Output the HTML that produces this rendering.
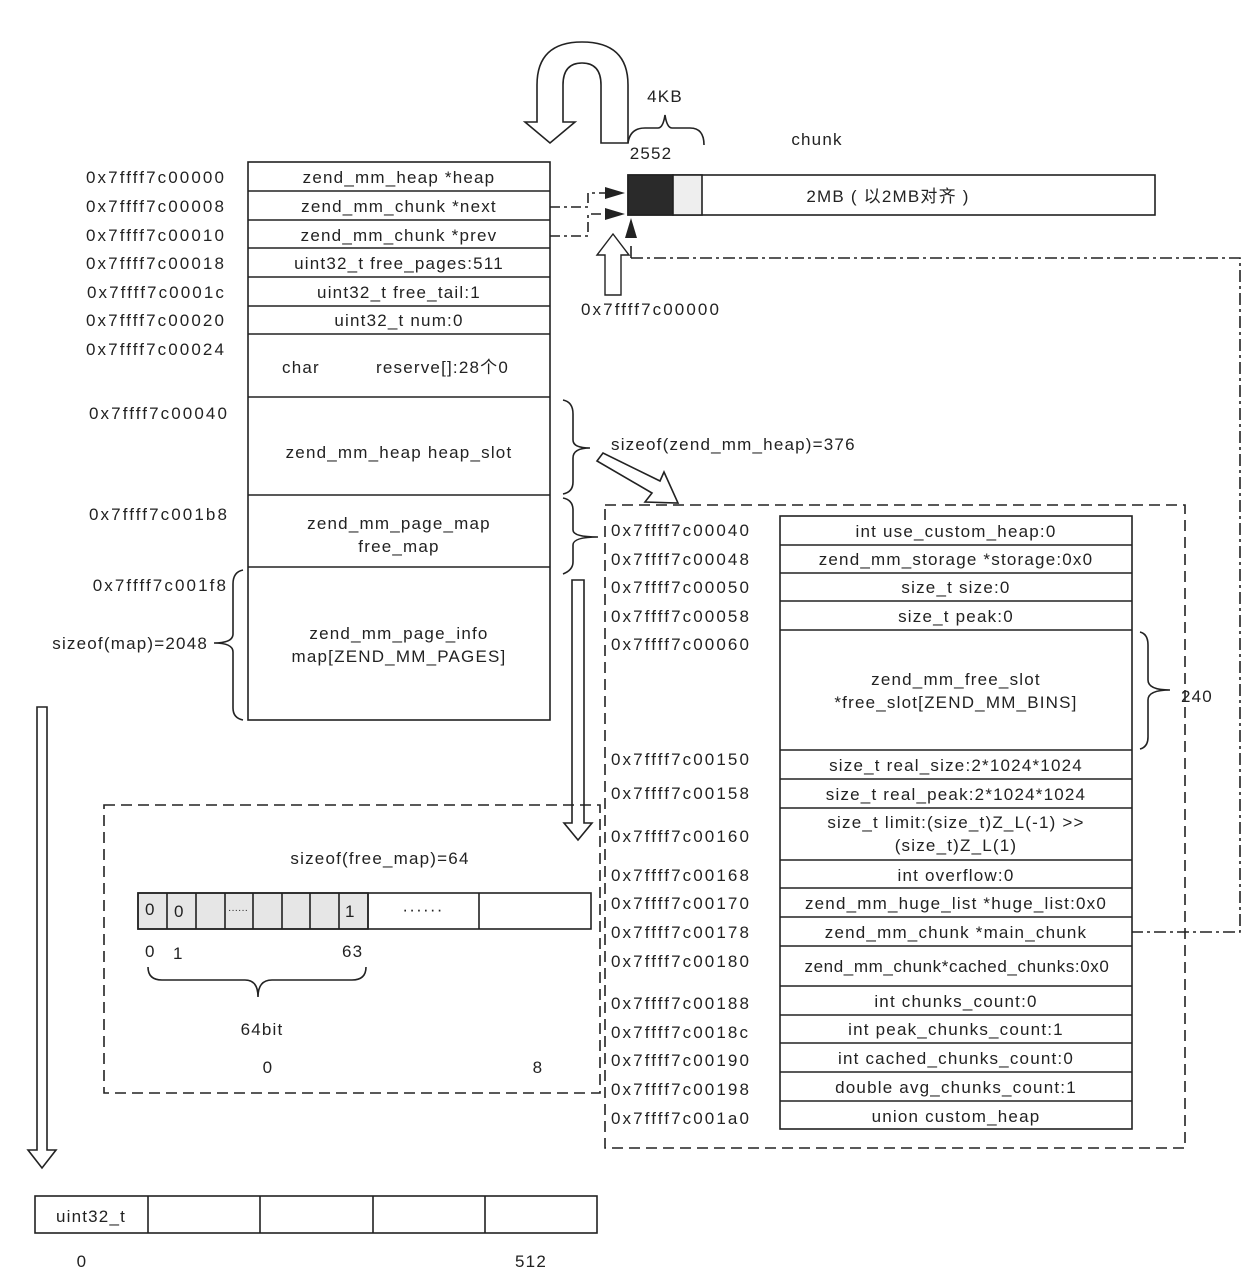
<!DOCTYPE html>
<html><head><meta charset="utf-8"><style>
body{margin:0;background:#fff}
svg text{font-family:"Liberation Sans","Noto Sans CJK SC",sans-serif;font-size:17px;fill:#222;letter-spacing:1.2px}
svg text.a{letter-spacing:2.1px}
</style></head><body>
<svg width="1255" height="1280" viewBox="0 0 1255 1280" xmlns="http://www.w3.org/2000/svg">
<g fill="none" stroke="#222" stroke-width="1.6">
<rect x="248" y="162" width="302" height="558"/>
<path d="M248 191H550M248 220H550M248 248H550M248 277H550M248 306H550M248 334H550M248 397H550M248 495H550M248 567H550"/>
<rect x="628" y="175" width="527" height="40"/>
<rect x="628" y="175" width="45" height="40" fill="#2a2a2a"/>
<rect x="673" y="175" width="29" height="40" fill="#eee"/>
<!-- U arrow -->
<path d="M601 143V85Q601 63 582 63Q563 63 563 85V122H575L550 143L525 122H537V85Q537 42 582 42Q628 42 628 85V143Z"/>
<path d="M628 143Q630 128 645 128H658Q663 128 665 115Q667 128 672 128H690Q704 128 704 145"/>
<path d="M605 295V255H597L613 234L629 255H621V295Z" stroke-width="1.4"/>
<path d="M550 207H588V193H605M550 236H588V214H605" stroke-dasharray="10,4,3,4"/>
<path d="M631 258V242M631 258H1240V932H1132" stroke-dasharray="12,4,3,4"/>
</g>
<g fill="#222">
<path d="M605 187L625 193L605 199Z"/><path d="M605 208L625 214L605 220Z"/><path d="M625 238L631 218L637 238Z"/>
</g>
<g fill="none" stroke="#222" stroke-width="1.6">
<path d="M563 400Q573 402 573 414V440Q573 448 590 448Q573 448 573 458V482Q573 492 563 494"/>
<path d="M563 498Q573 500 573 510V530Q573 537 598 537Q573 537 573 545V562Q573 570 563 574"/>
<path d="M243 570Q233 572 233 584V634Q233 643 214 643Q233 643 233 652V708Q233 718 243 720"/>
<path d="M597 461L603 453L660 481L664 472L678 503L645 502L652 493Z"/>
<rect x="605" y="505" width="580" height="643" stroke-dasharray="11,6"/>
<rect x="780" y="516" width="352" height="613"/>
<path d="M780 545H1132M780 573H1132M780 601H1132M780 630H1132M780 750H1132M780 779H1132M780 808H1132M780 860H1132M780 888H1132M780 917H1132M780 946H1132M780 986H1132M780 1015H1132M780 1043H1132M780 1072H1132M780 1101H1132"/>
<path d="M1140 632Q1148 634 1148 645V680Q1148 690 1170 690Q1148 690 1148 700V737Q1148 747 1140 749"/>
<rect x="104" y="805" width="496" height="288" stroke-dasharray="11,6"/>
<path d="M572 580V823H564L578 840L592 823H584V580Z"/>
<path d="M37 707V1150H28L42 1168L56 1150H47V707Z"/>
<rect x="138" y="893" width="230" height="36" fill="#e6e6e6"/>
<rect x="138" y="893" width="453" height="36"/>
<path d="M167 893V929M196 893V929M225 893V929M253 893V929M282 893V929M310 893V929M339 893V929M368 893V929M479 893V929"/>
<path d="M148 967Q148 980 162 980H245Q258 980 258 997Q258 980 272 980H352Q366 980 366 967"/>
<rect x="35" y="1196" width="562" height="37"/>
<path d="M148 1196V1233M260 1196V1233M373 1196V1233M485 1196V1233"/>
</g>
<g text-anchor="end">
<text class="a" x="226" y="183">0x7ffff7c00000</text>
<text class="a" x="226" y="212">0x7ffff7c00008</text>
<text class="a" x="226" y="241">0x7ffff7c00010</text>
<text class="a" x="226" y="269">0x7ffff7c00018</text>
<text class="a" x="226" y="298">0x7ffff7c0001c</text>
<text class="a" x="226" y="326">0x7ffff7c00020</text>
<text class="a" x="226" y="355">0x7ffff7c00024</text>
<text class="a" x="229" y="419">0x7ffff7c00040</text>
<text class="a" x="229" y="520">0x7ffff7c001b8</text>
<text class="a" x="228" y="591">0x7ffff7c001f8</text>
<text x="208" y="649">sizeof(map)=2048</text>
</g>
<g text-anchor="middle">
<text x="399" y="183">zend_mm_heap *heap</text>
<text x="399" y="212">zend_mm_chunk *next</text>
<text x="399" y="241">zend_mm_chunk  *prev</text>
<text x="399" y="269">uint32_t  free_pages:511</text>
<text x="399" y="298">uint32_t     free_tail:1</text>
<text x="399" y="326">uint32_t    num:0</text>
<text x="399" y="458">zend_mm_heap  heap_slot</text>
<text x="399" y="529">zend_mm_page_map</text>
<text x="399" y="552">free_map</text>
<text x="399" y="639">zend_mm_page_info</text>
<text x="399" y="662">map[ZEND_MM_PAGES]</text>
<text x="665" y="102">4KB</text>
<text x="651" y="159">2552</text>
<text x="817" y="145">chunk</text>
<text x="888" y="202">2MB ( 以2MB对齐 )</text>
<text class="a" x="651" y="315">0x7ffff7c00000</text>
</g>
<text x="282" y="373">char</text><text x="376" y="373">reserve[]:28个0</text>
<text x="611" y="450">sizeof(zend_mm_heap)=376</text>
<g>
<text class="a" x="611" y="536">0x7ffff7c00040</text>
<text class="a" x="611" y="565">0x7ffff7c00048</text>
<text class="a" x="611" y="593">0x7ffff7c00050</text>
<text class="a" x="611" y="622">0x7ffff7c00058</text>
<text class="a" x="611" y="650">0x7ffff7c00060</text>
<text class="a" x="611" y="765">0x7ffff7c00150</text>
<text class="a" x="611" y="799">0x7ffff7c00158</text>
<text class="a" x="611" y="842">0x7ffff7c00160</text>
<text class="a" x="611" y="881">0x7ffff7c00168</text>
<text class="a" x="611" y="909">0x7ffff7c00170</text>
<text class="a" x="611" y="938">0x7ffff7c00178</text>
<text class="a" x="611" y="967">0x7ffff7c00180</text>
<text class="a" x="611" y="1009">0x7ffff7c00188</text>
<text class="a" x="611" y="1038">0x7ffff7c0018c</text>
<text class="a" x="611" y="1066">0x7ffff7c00190</text>
<text class="a" x="611" y="1095">0x7ffff7c00198</text>
<text class="a" x="611" y="1124">0x7ffff7c001a0</text>
</g>
<g text-anchor="middle">
<text x="956" y="537">int  use_custom_heap:0</text>
<text x="956" y="565">zend_mm_storage   *storage:0x0</text>
<text x="956" y="593">size_t  size:0</text>
<text x="956" y="622">size_t  peak:0</text>
<text x="956" y="685">zend_mm_free_slot</text>
<text x="956" y="708">*free_slot[ZEND_MM_BINS]</text>
<text x="956" y="771">size_t     real_size:2*1024*1024</text>
<text x="956" y="800">size_t    real_peak:2*1024*1024</text>
<text x="956" y="828">size_t limit:(size_t)Z_L(-1) &gt;&gt;</text>
<text x="956" y="851">(size_t)Z_L(1)</text>
<text x="956" y="881">int       overflow:0</text>
<text x="956" y="909">zend_mm_huge_list *huge_list:0x0</text>
<text x="956" y="938">zend_mm_chunk *main_chunk</text>
<text x="957" y="972" style="letter-spacing:0.6px">zend_mm_chunk*cached_chunks:0x0</text>
<text x="956" y="1007">int  chunks_count:0</text>
<text x="956" y="1035">int  peak_chunks_count:1</text>
<text x="956" y="1064">int  cached_chunks_count:0</text>
<text x="956" y="1093">double  avg_chunks_count:1</text>
<text x="956" y="1122">union custom_heap</text>
<text x="380" y="864">sizeof(free_map)=64</text>
<text x="262" y="1035">64bit</text>
<text x="268" y="1073">0</text>
<text x="538" y="1073">8</text>
<text x="423" y="915">······</text>
<text x="238" y="913" style="font-size:10px;letter-spacing:0">······</text>
<text x="91" y="1222">uint32_t</text>
<text x="82" y="1267">0</text>
<text x="531" y="1267">512</text>
</g>
<text x="1181" y="702">240</text>
<text x="145" y="915">0</text><text x="174" y="917">0</text><text x="345" y="917">1</text>
<text x="145" y="957">0</text><text x="173" y="959">1</text><text x="342" y="957">63</text>
</svg>
</body></html>
